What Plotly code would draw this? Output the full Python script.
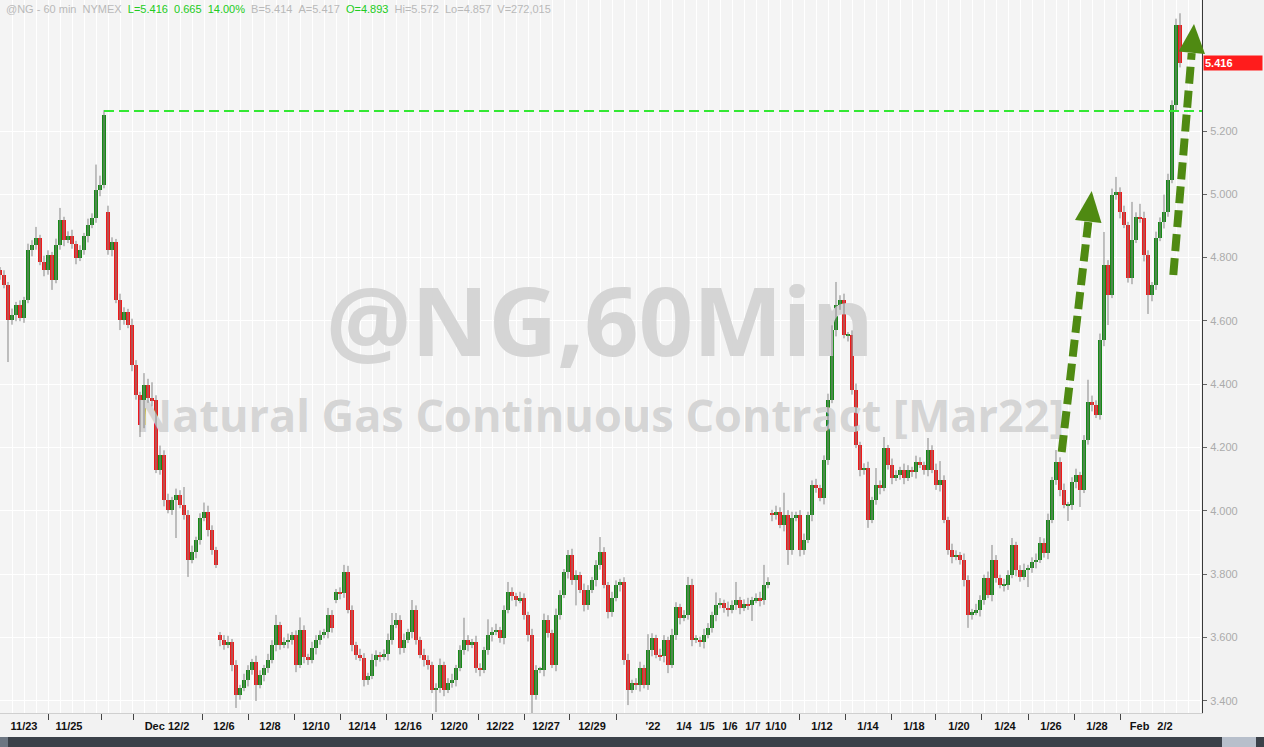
import plotly.graph_objects as go

# ---------------- data ----------------
# hourly-ish bars, one value every ~4 px of the reference x axis
close = [
    4.745, 4.713, 4.603, 4.619, 4.650, 4.609, 4.666, 4.824, 4.840, 4.862, 4.786, 4.761, 4.808, 4.729, 4.840, 4.919, 4.856, 4.868, 4.843, 4.799,
    4.824, 4.868, 4.903, 4.925, 5.014, 5.029, 5.251, 4.824, 4.849, 4.666, 4.603, 4.628, 4.587, 4.461, 4.366, 4.271, 4.397, 4.356, 4.350, 4.129,
    4.176, 4.034, 4.002, 4.034, 4.050, 4.018, 3.987, 3.844, 3.870, 3.908, 3.977, 3.996, 3.939, 3.876, 3.829, 3.592, 3.576, 3.585, 3.513, 3.418,
    3.440, 3.465, 3.497, 3.522, 3.449, 3.481, 3.503, 3.528, 3.576, 3.639, 3.576, 3.585, 3.592, 3.607, 3.513, 3.623, 3.538, 3.528, 3.566, 3.592,
    3.607, 3.617, 3.671, 3.630, 3.743, 3.740, 3.806, 3.686, 3.576, 3.544, 3.535, 3.465, 3.478, 3.528, 3.544, 3.538, 3.547, 3.592, 3.639, 3.655,
    3.566, 3.592, 3.617, 3.686, 3.592, 3.544, 3.528, 3.513, 3.434, 3.440, 3.513, 3.434, 3.456, 3.465, 3.503, 3.560, 3.592, 3.576, 3.585, 3.503,
    3.497, 3.560, 3.607, 3.617, 3.623, 3.598, 3.686, 3.743, 3.731, 3.718, 3.724, 3.671, 3.607, 3.418, 3.497, 3.497, 3.655, 3.614, 3.513, 3.671,
    3.734, 3.806, 3.860, 3.781, 3.797, 3.750, 3.702, 3.750, 3.781, 3.829, 3.870, 3.765, 3.680, 3.724, 3.765, 3.775, 3.528, 3.434, 3.456, 3.449,
    3.503, 3.449, 3.560, 3.598, 3.544, 3.541, 3.592, 3.513, 3.607, 3.696, 3.661, 3.671, 3.765, 3.592, 3.592, 3.585, 3.607, 3.630, 3.671, 3.702,
    3.709, 3.693, 3.686, 3.702, 3.718, 3.693, 3.705, 3.702, 3.718, 3.724, 3.718, 3.765, 3.775, 3.987, 3.996, 3.955, 3.987, 3.876, 3.977, 3.987,
    3.876, 3.908, 3.987, 4.081, 4.072, 4.040, 4.160, 4.350, 4.571, 4.650, 4.666, 4.555, 4.555, 4.382, 4.208, 4.129, 4.135, 3.971, 4.034, 4.081,
    4.072, 4.198, 4.145, 4.104, 4.113, 4.129, 4.104, 4.129, 4.122, 4.154, 4.145, 4.129, 4.192, 4.129, 4.081, 4.097, 3.971, 3.876, 3.854, 3.860,
    3.845, 3.781, 3.671, 3.680, 3.686, 3.718, 3.788, 3.734, 3.845, 3.788, 3.765, 3.765, 3.797, 3.892, 3.813, 3.791, 3.813, 3.819, 3.838, 3.845,
    3.898, 3.867, 3.971, 4.097, 4.154, 4.066, 4.018, 4.018, 4.091, 4.113, 4.066, 4.224, 4.344, 4.334, 4.303, 4.540, 4.777, 4.682, 4.998, 5.007,
    4.944, 4.903, 4.736, 4.856, 4.928, 4.925, 4.808, 4.682, 4.713, 4.862, 4.912, 4.944, 5.045, 5.282, 5.535, 5.416,
]
# length of the upper / lower wick of each bar (price units)
wick_up = [
    .010, .015, .010, .020, .010, .015, .010, .020, .015, .035, .010, .020, .015, .010, .020, .038, .010, .015, .020, .010,
    .015, .010, .020, .015, .080, .030, .015, .020, .015, .010, .020, .015, .010, .020, .015, .010, .038, .020, .050, .015,
    .030, .015, .020, .010, .020, .015, .057, .015, .020, .010, .015, .030, .020, .015, .010, .010, .015, .020, .010, .015,
    .010, .020, .015, .010, .020, .015, .010, .020, .015, .032, .010, .015, .020, .010, .015, .040, .015, .010, .020, .015,
    .015, .010, .022, .015, .010, .015, .023, .020, .015, .010, .020, .015, .010, .020, .015, .010, .015, .020, .038, .022,
    .015, .020, .010, .032, .015, .010, .020, .015, .010, .015, .020, .010, .015, .020, .010, .015, .070, .015, .010, .020,
    .015, .010, .050, .015, .020, .010, .015, .032, .015, .010, .020, .015, .010, .020, .015, .010, .020, .015, .010, .020,
    .015, .010, .016, .020, .015, .010, .020, .015, .010, .015, .047, .015, .010, .020, .015, .010, .015, .020, .010, .015,
    .020, .010, .050, .015, .010, .020, .015, .010, .020, .015, .010, .015, .026, .020, .015, .010, .020, .015, .010, .040,
    .015, .010, .020, .015, .057, .010, .015, .020, .010, .015, .020, .064, .015, .010, .020, .015, .070, .015, .020, .010,
    .015, .020, .010, .015, .020, .010, .015, .020, .015, .073, .015, .020, .010, .015, .020, .010, .015, .020, .010, .054,
    .015, .035, .010, .020, .015, .010, .020, .015, .010, .020, .015, .010, .038, .015, .020, .060, .015, .010, .020, .015,
    .010, .020, .015, .010, .020, .015, .010, .020, .047, .015, .010, .020, .015, .022, .010, .015, .020, .010, .015, .020,
    .019, .015, .020, .010, .038, .015, .020, .010, .015, .020, .010, .015, .070, .020, .015, .020, .104, .015, .020, .048,
    .015, .020, .010, .120, .015, .042, .020, .015, .010, .020, .015, .055, .020, .015, .020, .037,
]
wick_dn = [
    .015, .010, .133, .015, .020, .010, .015, .010, .020, .015, .010, .020, .015, .031, .010, .015, .020, .010, .015, .020,
    .010, .015, .020, .010, .015, .020, .010, .015, .020, .010, .032, .015, .010, .020, .015, .038, .010, .015, .020, .010,
    .015, .020, .010, .015, .120, .010, .015, .053, .010, .020, .015, .010, .020, .015, .010, .020, .015, .010, .020, .041,
    .015, .010, .020, .015, .050, .010, .020, .015, .010, .020, .015, .010, .020, .015, .023, .010, .020, .015, .010, .020,
    .015, .010, .020, .015, .010, .020, .015, .010, .020, .015, .010, .020, .015, .010, .020, .015, .010, .020, .015, .010,
    .020, .015, .010, .020, .015, .010, .020, .015, .010, .070, .015, .020, .010, .015, .020, .010, .015, .020, .010, .015,
    .020, .010, .015, .020, .010, .015, .020, .010, .015, .020, .010, .015, .020, .070, .015, .010, .020, .015, .010, .020,
    .015, .010, .020, .015, .080, .010, .020, .015, .010, .020, .015, .010, .020, .015, .010, .020, .015, .048, .010, .015,
    .020, .010, .015, .020, .010, .015, .020, .026, .010, .015, .020, .010, .015, .020, .010, .015, .020, .010, .015, .020,
    .010, .015, .020, .010, .015, .020, .010, .015, .050, .010, .020, .015, .010, .020, .015, .010, .020, .047, .015, .010,
    .020, .015, .010, .020, .015, .010, .020, .015, .010, .020, .015, .010, .020, .015, .010, .020, .015, .025, .010, .015,
    .020, .010, .015, .020, .010, .015, .020, .010, .015, .020, .010, .015, .020, .010, .015, .020, .010, .015, .020, .010,
    .015, .020, .041, .015, .010, .020, .015, .010, .020, .015, .010, .020, .015, .010, .020, .015, .010, .054, .015, .020,
    .010, .015, .020, .010, .015, .020, .010, .050, .015, .020, .054, .010, .015, .020, .010, .015, .020, .095, .010, .015,
    .020, .010, .015, .020, .010, .015, .020, .060, .020, .015, .010, .020, .015, .010, .020, .015,
]
# opening price of bars that start a new session with a price gap
session_open = {0: 4.760, 27: 4.944, 55: 3.607, 84: 3.718, 193: 3.993}

# date labels and tick marks on the bar-index axis
label_pos = [6, 17.25, 41.75, 56, 67.5, 79, 90.5, 102, 113.5, 125, 136.5, 148, 163.25, 171, 176.75,
             182.5, 188.25, 194, 205.5, 217, 228.5, 239.75, 251.25, 262.75, 274.25, 284.9, 291.25]
label_text = ["11/23", "11/25", "Dec 12/2", "12/6", "12/8", "12/10", "12/14", "12/16", "12/20", "12/22",
              "12/27", "12/29", "'22", "1/4", "1/5", "1/6", "1/7", "1/10", "1/12", "1/14", "1/18", "1/20",
              "1/24", "1/26", "1/28", "Feb", "2/2"]
tick_pos = [12, 25.25, 33.25, 50.5, 62, 73.5, 85, 96.5, 108, 119.5, 131, 142.25, 154,
            199.9, 211.25, 222.75, 233.75, 245.25, 257, 268.5, 280]
y_ticks = [3.4, 3.6, 3.8, 4.0, 4.2, 4.4, 4.6, 4.8, 5.0, 5.2]
prior_high = 5.263
prior_high_bar = 26
last_price = 5.416

# ---------------- build bars ----------------
n = min(len(close), len(wick_up), len(wick_dn))
idx = list(range(n))
opens = [session_open.get(i, close[i - 1] if i > 0 else close[0]) for i in idx]
highs = [max(opens[i], close[i]) + wick_up[i] for i in idx]
lows = [min(opens[i], close[i]) - wick_dn[i] for i in idx]

GREEN = "#168a16"
RED = "#ee1a1a"
body_base = [min(opens[i], close[i]) for i in idx]
body_len = [max(abs(close[i] - opens[i]), 0.004) for i in idx]
body_col = [GREEN if close[i] >= opens[i] else RED for i in idx]

wx, wy = [], []
for i in idx:
    wx += [i, i, None]
    wy += [lows[i], highs[i], None]

X_RANGE = [0, 300.5]
Y_RANGE = [3.361, 5.614]

fig = go.Figure()

# watermark (drawn first so it sits under the candles)
fig.add_trace(go.Scatter(
    x=[150, 150], y=[4.565, 4.284], mode="text",
    text=["@NG,60Min", "Natural Gas Continuous Contract [Mar22]"],
    textposition="middle center",
    textfont=dict(family="Open Sans", size=[95, 45], color="#d5d5d5", weight="bold"),
    hoverinfo="skip", showlegend=False))

fig.add_trace(go.Scatter(x=wx, y=wy, mode="lines",
                         line=dict(color="#858585", width=1),
                         hoverinfo="skip", showlegend=False))
fig.add_trace(go.Bar(x=idx, y=body_len, base=body_base, width=0.95,
                     marker=dict(color=body_col, line=dict(width=0)),
                     hoverinfo="skip", showlegend=False))

# helper traces so the overlay axes are drawn
fig.add_trace(go.Scatter(x=[1], y=[4], xaxis="x2", mode="markers",
                         marker=dict(opacity=0), hoverinfo="skip", showlegend=False))
fig.add_trace(go.Scatter(x=[1], y=[4], xaxis="x3", mode="markers",
                         marker=dict(opacity=0), hoverinfo="skip", showlegend=False))

PW, PH = 1202.0, 713.0


def pp(xp, yp):
    return xp / PW, 1 - yp / PH


shapes = []
# prior high line
shapes.append(dict(type="line", xref="x", yref="y", x0=prior_high_bar, x1=X_RANGE[1],
                   y0=prior_high, y1=prior_high,
                   line=dict(color="#33e833", width=2, dash="10px,5px")))

ARROW = "#4f8a12"
for (sb, st, tip, c1, c2) in [
    ((1061.7, 452), (1088.3, 222), (1091.7, 191), (1101.5, 223), (1075.0, 220)),
    ((1173.3, 275), (1191.7, 53), (1194.0, 24), (1205.0, 54), (1178.5, 51.5)),
]:
    x0, y0 = pp(*sb)
    x1, y1 = pp(*st)
    shapes.append(dict(type="line", xref="paper", yref="paper", x0=x0, y0=y0, x1=x1, y1=y1,
                       line=dict(color=ARROW, width=8, dash="17px,7px")))
    a, b, c = pp(*tip), pp(*c1), pp(*c2)
    shapes.append(dict(type="path", xref="paper", yref="paper",
                       path=f"M {a[0]},{a[1]} L {b[0]},{b[1]} L {c[0]},{c[1]} Z",
                       fillcolor=ARROW, line=dict(width=0)))

# bottom status/scroll bar
shapes.append(dict(type="rect", xref="paper", yref="paper", x0=0, x1=1264 / PW,
                   y0=-34 / PH, y1=-24 / PH, fillcolor="#3b4149", line=dict(width=0)))
shapes.append(dict(type="rect", xref="paper", yref="paper", x0=1222 / PW, x1=1256 / PW,
                   y0=-34 / PH, y1=-24 / PH, fillcolor="#b7bfcb", line=dict(width=0)))
shapes.append(dict(type="rect", xref="paper", yref="paper", x0=0, x1=8 / PW,
                   y0=-34 / PH, y1=-24 / PH, fillcolor="#6d7682", line=dict(width=0)))

NB = "\u00a0"
gray = "#b9b9b9"
green = "#22cc22"
header = (f'<span style="color:{gray}">@NG - 60 min{NB*2}NYMEX</span>{NB*2}'
          f'<span style="color:{green}">L=5.416{NB*2}0.665{NB*2}14.00%</span>{NB*2}'
          f'<span style="color:{gray}">B=5.414{NB*2}A=5.417</span>{NB*2}'
          f'<span style="color:{green}">O=4.893</span>{NB*2}'
          f'<span style="color:{gray}">Hi=5.572{NB*2}Lo=4.857{NB*2}V=272,015</span>')

annotations = [
    dict(xref="paper", yref="paper", x=0.003, y=1, xanchor="left", yanchor="top", yshift=-1,
         text=header, showarrow=False, font=dict(family="Arial", size=11)),
    dict(xref="paper", yref="y", x=1, y=last_price, xanchor="left", yanchor="middle",
         xshift=1, text=f"<b>{last_price:.3f}</b>", showarrow=False, align="left",
         width=56, height=12, bgcolor="#ff1c1c", borderpad=1,
         font=dict(family="Arial", size=11, color="#ffffff")),
]

fig.update_layout(
    width=1264, height=747,
    margin=dict(l=0, r=62, t=0, b=34),
    paper_bgcolor="#f2f2f2", plot_bgcolor="#f4f4f4",
    showlegend=False, bargap=0,
    xaxis=dict(range=X_RANGE, tickmode="linear", tick0=0, dtick=3, showgrid=True,
               gridcolor="#ffffff", gridwidth=1, showticklabels=False, ticks="",
               zeroline=False, showline=True, linecolor="#cfcfcf", linewidth=1, fixedrange=True),
    xaxis2=dict(overlaying="x", anchor="y", side="bottom", range=X_RANGE, tickmode="array",
                tickvals=label_pos, ticktext=label_text, showgrid=False, zeroline=False,
                ticks="", ticklabelstandoff=5,
                tickfont=dict(family="Arial", size=11, color="#111111", weight="bold")),
    xaxis3=dict(overlaying="x", anchor="y", side="bottom", range=X_RANGE, tickmode="array",
                tickvals=tick_pos, ticks="outside", ticklen=6, tickcolor="#444444",
                tickwidth=1, showticklabels=False, showgrid=False, zeroline=False),
    yaxis=dict(side="right", range=Y_RANGE, tickmode="array", tickvals=y_ticks,
               ticktext=[f"{v:.3f}" for v in y_ticks], showgrid=True, gridcolor="#ffffff",
               gridwidth=1, zeroline=False, showline=True, linecolor="#3a3a3a", linewidth=1,
               ticks="outside", ticklen=4, tickcolor="#666666", ticklabelstandoff=1,
               tickfont=dict(family="Arial", size=11, color="#ababab")),
    shapes=shapes, annotations=annotations,
)

fig.write_html(
    "out.html",
    config={"displayModeBar": False},
    post_script="document.body.style.margin='0';document.body.style.overflow='hidden';",
)
